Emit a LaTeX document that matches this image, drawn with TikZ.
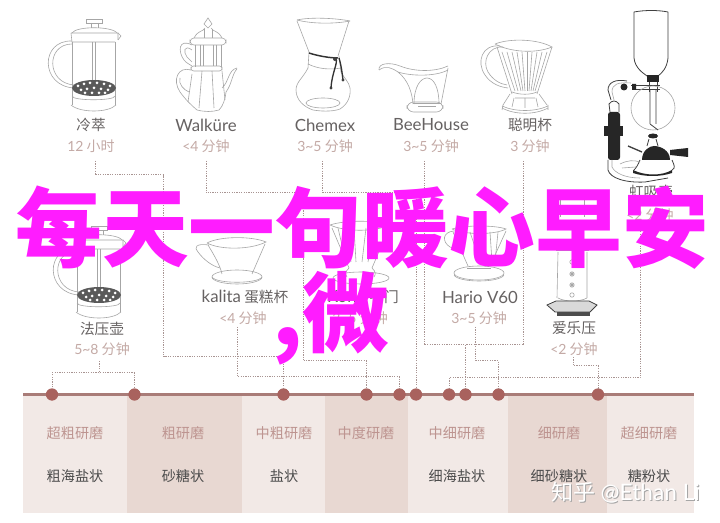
\documentclass[tikz,border=0pt]{standalone}
\usepackage{fontspec}
\setmainfont{Noto Sans CJK SC}
\newfontfamily\lat{Lato}
\usetikzlibrary{calc}
\definecolor{magt}{HTML}{FF1CFF}
\definecolor{bandL}{HTML}{F2E9E6}
\definecolor{bandD}{HTML}{E8D8D2}
\definecolor{dotc}{HTML}{A9625E}
\definecolor{basec}{HTML}{A97C78}
\definecolor{connc}{HTML}{A89492}
\definecolor{pinkt}{HTML}{C4AAA6}
\definecolor{grind}{HTML}{BD9490}
\definecolor{namec}{HTML}{666262}
\definecolor{devc}{HTML}{A6A6A6}
\newcommand{\tld}{\char`\~}
\newcommand{\pressdraw}{%
  \draw[dev,fill=white] (86,19) rectangle (102,23);
  \draw[dev] (91,23) -- (91,28) (98,23) -- (98,28);
  \draw[dev] (72,33) .. controls (76,26) and (112,26) .. (117,33);
  \draw[dev] (71,33) -- (118,33) -- (118,40) (71,33) -- (72,42) -- (115,42);
  \draw[dev] (118,33) -- (121,36) -- (118,40);
  \draw[dev] (72,42) -- (72,105) (115,42) -- (115,105);
  \draw[dev] (92,42) -- (92,80) (95,42) -- (95,80);
  \draw[dev] (72,41) .. controls (40,40) and (40,86) .. (74,88);
  \draw[dev] (72,44) .. controls (46,44) and (46,83) .. (74,85);
  \fill[black!65] (94,88) ellipse (22 and 8);
  \foreach \a/\b in {78/86,84/84,90/83,97/83,104/84,110/86,81/90,87/89,94/88,101/89,108/90,85/93,92/93,99/93,105/93}
    \fill[white] (\a,\b) circle (1.5);
  \draw[dev] (72,96) .. controls (72,101) and (115,101) .. (115,96);
  \draw[dev] (71,105) .. controls (80,113) and (108,113) .. (116,105);
}
\tikzset{
  dev/.style={draw=devc,line width=0.45pt},
  devd/.style={draw=black!75,line width=0.6pt},
  conn/.style={draw=connc,line width=0.75pt,dash pattern=on 0.9pt off 0.9pt},
  dotn/.style={circle,fill=dotc,minimum size=9pt,inner sep=0pt},
  nm/.style={text=namec,font=\fontsize{11}{13}\selectfont,inner sep=0pt},
  nl/.style={text=namec,font=\lat\fontsize{12.6}{14}\selectfont,inner sep=0pt},
  tm/.style={text=pinkt,font=\fontsize{10.5}{13}\selectfont,inner sep=0pt},
  gr/.style={text=grind,font=\fontsize{10.6}{13}\selectfont,inner sep=0pt},
  gd/.style={text=black!70,font=\fontsize{10.6}{13}\selectfont,inner sep=0pt},
  ttl/.style={text=magt,font=\fontsize{65}{70}\selectfont\bfseries,inner sep=0pt},
  wm/.style={font=\fontsize{16.5}{18}\selectfont,inner sep=0pt},
}
\begin{document}
\begin{tikzpicture}[x=0.75pt,y=-0.75pt]
\useasboundingbox (0,0) rectangle (720,523);
\fill[white] (0,0) rectangle (720,523);
% grind bands
\fill[bandL] (23,395) rectangle (127,513);
\fill[bandD] (127,395) rectangle (241.5,513);
\fill[bandL] (241.5,395) rectangle (325,513);
\fill[bandD] (325,395) rectangle (407.5,513);
\fill[bandL] (407.5,395) rectangle (507.5,513);
\fill[bandD] (507.5,395) rectangle (606.5,513);
\fill[bandL] (606.5,395) rectangle (694,513);
\draw[basec,line width=1.8pt] (23,394.5) -- (694,394.5);
% dots
\foreach \n/\x in {d1/52,d2/134.5,d3/283.5,d4/366.5,d5/399.5,d6/416,d7/449,d8/465.5,d9/498.5,d10/598}
  \node[dotn] (\n) at (\x,394.5) {};
% connector starts
\coordinate (s1) at (95,161);
\coordinate (s2) at (206,161);
\coordinate (s3) at (322.5,161);
\coordinate (s4) at (424,161);
\coordinate (s5) at (523.5,161);
\coordinate (s6) at (99,361);
\coordinate (s7) at (237.5,327);
\coordinate (s8) at (475.5,327);
\coordinate (s9) at (573.3,357);
\coordinate (s10) at (640.5,224);
% connectors
\draw[conn] (s1) -- (95,175) -- (163.5,175) -- (163.5,357) -- (283.5,357) -- (d3.center);
\draw[conn] (s2) -- (206,193) -- (303,193) -- (303,361) -- (366.5,361) -- (d4.center);
\draw[conn] (s3) -- (322.5,192.5) -- (416,192.5) -- (d6.center);
\draw[conn] (s4) -- (424,345) -- (465.5,345) -- (d8.center);
\draw[conn] (s5) -- (523.5,345) -- (465.5,345);
\draw[conn] (s6) -- (99,373);
\draw[conn] (d1.center) -- (52,373) -- (134.5,373) -- (d2.center);
\draw[conn] (s7) -- (237.5,376.7) -- (399.5,376.7) -- (d5.center);
\draw[conn] (s8) -- (475.5,361) -- (498.5,361) -- (d9.center);
\draw[conn] (s9) -- (573.3,366) -- (598,366) -- (d10.center);
\draw[conn] (s10) -- (640.5,378) -- (449,378) -- (d7.center);
\foreach \n in {d1,d2,d3,d4,d5,d6,d7,d8,d9,d10} \node[dotn] at (\n) {};
% French presses
\pressdraw
\begin{scope}[shift={(5,207)}] \pressdraw \end{scope}
% Walkure
\draw[dev] (208,18) -- (212,24) -- (208,28) -- (204,24) -- cycle;
\draw[dev] (194,38) .. controls (198,30) and (203,32) .. (205,28) (222,38) .. controls (218,30) and (213,32) .. (211,28);
\draw[dev] (204,29) -- (204,38) (212,29) -- (212,38);
\draw[dev,rounded corners=3pt] (190,38) rectangle (226,45);
\draw[dev] (195,45) -- (195,67) (221,45) -- (221,67) (200,45) -- (200,66) (203,45) -- (203,66) (213,45) -- (213,66) (216,45) -- (216,66);
\draw[dev,rounded corners=2pt] (191,66) rectangle (222,71);
\draw[dev] (192,45) .. controls (178,38) and (178,52) .. (184,60) .. controls (187,64) and (190,64) .. (192,66);
\draw[dev] (192,50) .. controls (184,44) and (183,52) .. (187,57) -- (192,62);
\draw[dev] (191,70) .. controls (178,66) and (172,80) .. (180,92) .. controls (186,100) and (190,104) .. (197,110);
\draw[dev] (192,74) -- (188,102) (202,71) -- (199,108) (212,71) -- (214,108) (222,71) -- (225,100);
\draw[dev] (197,110) .. controls (205,112) and (212,112) .. (219,110) .. controls (223,106) and (225,100) .. (226,92);
\draw[dev] (222,88) .. controls (229,82) and (228,70) .. (237,68) (226,92) .. controls (232,84) and (232,74) .. (237,69);
\draw[dev] (180,78) .. controls (178,84) and (184,90) .. (189,92);
% Chemex
\draw[dev] (297,20) .. controls (310,17) and (335,18) .. (350,21);
\draw[dev] (297,20) .. controls (312,24) and (335,24) .. (350,21);
\draw[dev] (297,21) -- (309,52) (349,21) -- (338,56);
\draw[dev] (308,64) .. controls (318,69) and (330,70) .. (341,68);
\draw[dev] (309,52) -- (308,68) (339,56) -- (341,72);
\draw[dev] (308,68) .. controls (303,78) and (296,82) .. (296,90) .. controls (296,100) and (304,107) .. (313,110) .. controls (325,112) and (335,111) .. (340,109) .. controls (348,104) and (351,96) .. (350,88) .. controls (349,82) and (344,78) .. (341,72);
\draw[dev] (323,103) ellipse (17 and 5);
\draw[black!80,line width=1.1pt] (309,53) .. controls (318,56) and (330,58) .. (338,58);
\draw[black!80,line width=1pt] (336,58) .. controls (338,64) and (332,72) .. (331,88) (339,58) .. controls (341,64) and (342,72) .. (343,80);
\fill[black!75] (331,88) circle (1.6) (343,80) circle (1.6) (335,59) circle (2);
% BeeHouse
\draw[dev] (379,70) .. controls (378,63) and (390,62) .. (400,66) .. controls (415,72) and (435,72) .. (448,66);
\draw[dev] (379,70) .. controls (386,65) and (392,68) .. (398,72) .. controls (410,76) and (435,77) .. (448,70);
\draw[dev] (398,72) .. controls (408,80) and (412,92) .. (413,104) (448,68) -- (441,104);
\draw[dev] (414,104) .. controls (414,86) and (421,78) .. (427,78) .. controls (434,78) and (439,88) .. (439,104);
\draw[dev] (413,103) -- (441,103);
\draw[dev,rounded corners=5pt] (407,102) rectangle (443,112);
\draw[dev] (418,106) -- (436,106);
% Clever
\draw[dev] (495,44) .. controls (510,38) and (538,39) .. (552,47) .. controls (535,54) and (510,52) .. (495,44);
\draw[dev] (500,46) .. controls (482,44) and (476,62) .. (485,75) .. controls (491,84) and (500,87) .. (508,88);
\draw[dev] (503,47) .. controls (488,46) and (482,62) .. (488,72) .. controls (493,80) and (500,84) .. (507,85);
\draw[dev] (497,47) -- (512,94) (552,47) -- (537,94);
\foreach \a/\b in {502/515,507/518,512/521,517/523,522/525,527/527,532/529,537/531,542/533,547/535} \draw[dev] (\a,52) -- (\b,91);
\draw[dev] (512,92) .. controls (520,95) and (530,95) .. (537,92);
\draw[dev] (510,94) -- (503,105) (539,94) -- (547,105);
\draw[dev] (502,106) .. controls (515,112) and (535,112) .. (548,106);
\draw[dev] (503,105) -- (502,110) (548,105) -- (548,110) (525,98) -- (525,108) (514,98) -- (512,107) (536,98) -- (538,107);
\draw[dev] (515,98) -- (535,98) (502,108) .. controls (515,115) and (535,115) .. (548,108);
% Siphon
\draw[devd] (634,12) .. controls (645,10) and (658,10) .. (668,12);
\draw[devd] (634,12) -- (634,58) .. controls (635,68) and (643,73) .. (647,76);
\draw[devd] (668,12) -- (668,58) .. controls (667,68) and (662,73) .. (658,76);
\fill[black!85] (647,75) rectangle (659,82);
\draw[devd] (649,82) -- (649,92) (657,82) -- (657,92) (631,85) -- (660,85) (636,89) -- (660,89);
\draw[dev] (653,108) circle (22);
\draw[devd] (650,90) -- (650,124) (656,90) -- (656,124) (650,124) -- (658,130);
\fill[black!85] (624,87) circle (3.5) (632,84) rectangle (636,90);
\draw[devd] (627,81) .. controls (616,79) and (608,82) .. (608,90) -- (611,100);
\draw[dev] (631,83) .. controls (618,82) and (612,84) .. (612,92) -- (614,100);
\draw[devd] (610,112) -- (609,104) .. controls (612,100) and (616,100) .. (619,104) -- (619,112);
\fill[black!85,rounded corners=2pt] (608,112) rectangle (620,160);
\fill[black!85] (604,126) rectangle (623,136);
\fill[black!85] (653,136) ellipse (5 and 2.5);
\draw[devd] (649,139) -- (647,146) (656,139) -- (658,146);
\fill[black!85] (642,160) .. controls (642,150) and (650,146) .. (654,146) .. controls (660,146) and (670,150) .. (670,160) -- cycle;
\draw[devd,line width=1pt] (628,146) -- (642,152);
\fill[black!85] (670,150) -- (688,148) -- (688,157) -- (670,155) -- cycle;
\draw[devd] (640,160) .. controls (638,165) and (636,168) .. (634,170) (672,160) .. controls (674,165) and (676,168) .. (672,170);
\fill[black!85] (633,170) .. controls (645,176) and (662,176) .. (672,170) -- (672,173) .. controls (660,177) and (645,177) .. (633,173) -- cycle;
\draw[devd] (608,160) -- (608,170) .. controls (610,178) and (625,183) .. (645,182) -- (668,178);
\draw[dev] (612,160) -- (612,167) .. controls (615,173) and (625,178) .. (640,178);
\draw[dev] (620,164) .. controls (628,160) and (634,160) .. (640,162) (622,168) -- (636,167);
% Kalita
\draw[dev] (207,243) .. controls (220,236) and (252,236) .. (266,242) .. controls (250,250) and (220,250) .. (207,243);
\draw[dev] (209,245) .. controls (195,243) and (194,248) .. (198,252) .. controls (204,260) and (212,266) .. (220,268);
\draw[dev] (208,245) .. controls (214,255) and (220,265) .. (222,274) (265,244) -- (252,274);
\draw[dev] (237,277) ellipse (25 and 7);
\draw[dev] (212,277) .. controls (216,284) and (258,284) .. (262,277);
% hidden dripper
\draw[dev] (330,225) .. controls (345,220) and (375,220) .. (390,225) .. controls (375,232) and (345,232) .. (330,225);
\foreach \a/\b in {338/346,346/351,354/356,366/362,374/368} \draw[dev] (\a,228) -- (\b,262);
\draw[dev] (332,228) -- (349,268) (389,228) -- (372,268);
\draw[dev] (349,268) .. controls (345,272) and (345,274) .. (347,277) (372,268) .. controls (376,272) and (376,274) .. (374,277);
\draw[dev] (361,278) ellipse (28 and 6);
% Hario
\draw[dev] (452,229) .. controls (465,225) and (495,225) .. (506,229) .. controls (495,235) and (465,235) .. (452,229);
\draw[dev] (454,231) .. controls (442,232) and (442,242) .. (450,247) -- (459,250);
\draw[dev] (453,232) -- (468,266) (506,231) -- (490,266);
\foreach \a/\b in {470/480,480/488,490/492,498/495} \draw[dev] (\a,232) -- (\b,262);
\draw[dev] (467,268) -- (491,268);
\draw[dev] (479,273) ellipse (25 and 7);
\draw[dev] (454,275) .. controls (458,283) and (500,283) .. (504,275);
% Aeropress
\draw[dev] (560,200) -- (560,217) (584,200) -- (584,217) (556,250) -- (589,250);
\draw[dev] (558,252) -- (557,298) (587,252) -- (587,298);
\foreach \y in {262,274,285,295} {\draw[dev] (572,\y) circle (2.2);}
\fill[devc] (572,274) circle (1.8) (572,285) circle (1.8);
\draw[dev] (558,298) .. controls (565,302) and (580,302) .. (587,298);
\draw[devd,fill=black!15] (547,305) -- (556,301) -- (589,301) -- (597,305) -- (590,312) -- (555,312) -- cycle;
\fill[black!70] (557,312) rectangle (590,316);
% labels
\node[nm] (l1) at (91,125) {冷萃};
\node[tm] (t1) at (91,146) {{\lat 12} 小时};
\node[nl] (l2) at (206,125) {Walküre};
\node[tm] (t2) at (206,146) {{\lat <4} 分钟};
\node[nl] (l3) at (325,125) {Chemex};
\node[tm] (t3) at (325,146) {{\lat 3\tld5} 分钟};
\node[nl] (l4) at (431,125) {BeeHouse};
\node[tm] (t4) at (431,146) {{\lat 3\tld5} 分钟};
\node[nm] (l5) at (530,125) {聪明杯};
\node[tm] (t5) at (530,146) {{\lat 3} 分钟};
\node[nm] (l6) at (651,192) {虹吸壶};
\node[tm] (t6) at (650,215) {{\lat <2} 分钟};
\node[nm] (l7) at (102,329) {法压壶};
\node[tm] (t7) at (102,349) {{\lat 5\tld8} 分钟};
\node[nm] (l8) at (245,297) {{\lat\fontsize{12.6}{14}\selectfont kalita} 蛋糕杯};
\node[tm] (t8) at (243,318) {{\lat <4} 分钟};
\node[nm] (l9) at (363,297) {{\lat\fontsize{12.6}{14}\selectfont Kono} 名门};
\node[tm] (t9) at (360,318) {{\lat 3\tld5} 分钟};
\node[nl] (l10) at (480,297) {Hario V60};
\node[tm] (t10) at (479,318) {{\lat 3\tld5} 分钟};
\node[nm] (l11) at (574,328) {爱乐压};
\node[tm] (t11) at (574,349) {{\lat <2} 分钟};
% grind labels
\node[gr] (g1) at (75,433) {超粗研磨};
\node[gd] (h1) at (75,476) {粗海盐状};
\node[gr] (g2) at (183,433) {粗研磨};
\node[gd] (h2) at (183,476) {砂糖状};
\node[gr] (g3) at (284,433) {中粗研磨};
\node[gd] (h3) at (284,476) {盐状};
\node[gr] (g4) at (366,433) {中度研磨};
\node[gr] (g5) at (457,433) {中细研磨};
\node[gd] (h5) at (457,476) {细海盐状};
\node[gr] (g6) at (559,433) {细研磨};
\node[gd] (h6) at (559,476) {细砂糖状};
\node[gr] (g7) at (649,433) {超细研磨};
\node[gd] (h7) at (649,476) {糖粉状};
% watermark
\node[wm,text=black!35,anchor=west] (wm0) at (552.5,494) {知乎 {\lat\fontsize{17}{18}\selectfont @Ethan Li}};
\node[wm,text=white,anchor=west] (wm1) at (551.5,493) {知乎 {\lat\fontsize{17}{18}\selectfont @Ethan Li}};
% title
\node[ttl] (title) at (362,228) {每天一句暖心早安};
\node[ttl] (title2) at (331,318) {,微};
\end{tikzpicture}
\end{document}
